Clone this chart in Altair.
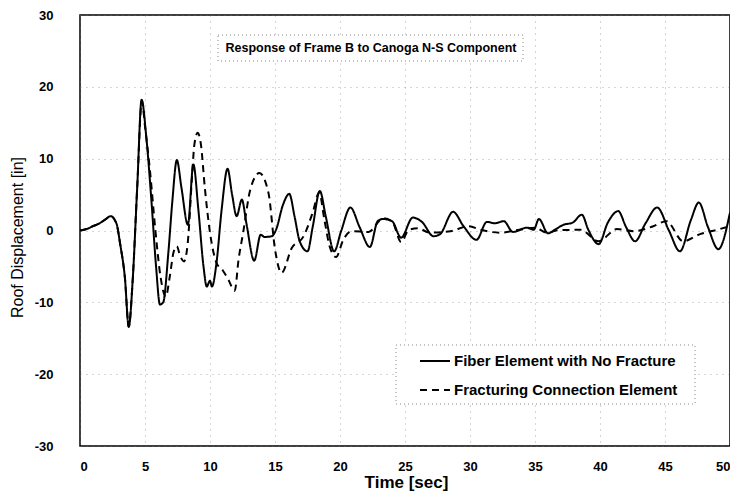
import altair as alt
import pandas as pd

# Fiber Element with No Fracture (solid)
solid_t = [0, 0.5, 1.0, 1.5, 2.0, 2.35, 2.8, 3.1, 3.45, 3.75, 4.05, 4.4, 4.74,
           5.1, 5.5, 5.85, 6.15, 6.4, 6.8, 7.1, 7.45, 7.8, 8.3, 8.72, 9.1, 9.5, 9.75,
           10.0, 10.15, 10.5, 10.9, 11.35, 11.7, 12.05, 12.45, 12.8, 13.4, 13.9, 14.2,
           14.75, 15.1, 15.6, 16.1, 16.5, 16.9, 17.5, 17.9, 18.45, 18.9, 19.55, 20.1,
           20.8, 21.5, 22.3, 22.9, 23.3, 24.0, 24.7, 25.6, 26.3, 27.2, 27.7, 28.7,
           29.5, 30.5, 31.3, 31.9, 32.6, 33.3, 34.4, 34.9, 35.3, 36.0, 36.6, 37.2,
           37.9, 38.6, 39.1, 39.9, 40.6, 41.4, 42.0, 42.7, 43.5, 44.4, 45.3, 46.15,
           47.0, 47.6, 48.3, 49.1, 50.0]
solid_y = [0, 0.2, 0.6, 1.0, 1.6, 2.0, 1.0, -2.0, -6.5, -13.4, -7.0, 6.0, 18.2,
           13.0, 4.0, -5.0, -10.3, -10.0, -3.0, 4.0, 9.8, 6.0, 0.8, 9.2, 3.0, -5.0, -7.8,
           -7.0, -7.8, -4.5, 3.0, 8.6, 5.0, 2.0, 4.3, 1.0, -4.2, -0.6, -0.9,
           -0.8, 0.2, 3.5, 5.1, 2.0, -1.5, -2.9, 0.5, 5.5, 2.0, -2.9, 0.0,
           3.2, 0.5, -2.3, 1.3, 1.6, 1.3, -1.0, 1.8, 1.2, -0.8, -0.5, 2.6,
           0.6, -1.3, 1.2, 1.0, 1.3, -0.2, 0.4, 0.1, 1.6, -0.4, 0.2, 0.8,
           1.1, 2.2, 0.1, -1.9, 1.1, 2.7, 0.5, -1.5, 1.0, 3.2, 0.0, -2.9,
           1.5, 3.9, 0.5, -2.6, 2.5]

# Fracturing Connection Element (dashed)
dash_t = [0, 0.5, 1.0, 1.5, 2.0, 2.35, 2.8, 3.1, 3.45, 3.75, 4.05, 4.4, 4.76,
          5.0, 5.4, 5.8, 6.2, 6.6, 6.9, 7.2, 7.45, 7.7, 8.0, 8.3, 8.6, 8.8, 9.05,
          9.3, 9.6, 10.0, 10.5, 11.0, 11.4, 11.9, 12.2, 12.55, 13.1, 13.8, 14.5,
          15.0, 15.5, 16.3, 17.2, 17.9, 18.4, 18.8, 19.2, 19.7, 20.25, 20.9, 22.2,
          23.3, 24.0, 24.7, 25.3, 26.0, 26.9, 28.5, 29.9, 30.8, 32.3, 33.8, 35.0,
          35.9, 36.9, 38.5, 39.9, 41.3, 42.6, 44.1, 45.1, 46.4, 47.7, 49.0, 50.0]
dash_y = [0, 0.2, 0.6, 1.0, 1.6, 2.0, 1.0, -2.0, -6.5, -13.4, -7.0, 6.0, 18.0,
          14.5, 8.0, 0.0, -6.5, -9.2, -6.5, -3.0, -2.2, -3.5, -4.3, -1.5, 7.0, 12.0, 13.6,
          12.0, 6.0, -0.3, -4.5, -5.6, -6.8, -8.4, -4.0, -0.3, 5.7, 8.0, 5.2,
          -2.6, -5.9, -2.4, -0.8, 2.5, 5.3, 1.5, -2.2, -3.7, -1.3, -0.1, -0.2,
          1.7, 1.3, -1.6, 0.1, 0.3, -0.3, -0.1, 0.6, 0.1, -0.3, 0.1, 0.4,
          -0.3, 0.05, 0.1, -1.5, 0.2, -0.1, 0.6, 1.3, -1.5, -0.5, 0.1, 0.6]

series_names = ["Fiber Element with No Fracture", "Fracturing Connection Element"]
x_ticks = [0, 5, 10, 15, 20, 25, 30, 35, 40, 45, 50]
y_ticks = [-30, -20, -10, 0, 10, 20, 30]
title_text = "Response of Frame B to Canoga N-S Component"

df = pd.concat([
    pd.DataFrame({"t": solid_t, "y": solid_y, "series": series_names[0]}),
    pd.DataFrame({"t": dash_t, "y": dash_y, "series": series_names[1]}),
])

FONT = "Liberation Sans"

lines = alt.Chart(df).mark_line(color="black", strokeWidth=2, interpolate="monotone", clip=True).encode(
    x=alt.X("t:Q", scale=alt.Scale(domain=[0, 50], nice=False),
            axis=alt.Axis(values=x_ticks, title="Time [sec]", labelExpr="'' + datum.value",
                          labelPadding=14, tickSize=0, labelFontSize=13, labelFontWeight="bold",
                          titleX=326, titleY=36, titleBaseline="middle",
                          titleFontSize=17, titleFontWeight="bold")),
    y=alt.Y("y:Q", scale=alt.Scale(domain=[-30, 30], nice=False),
            axis=alt.Axis(values=y_ticks, title="Roof Displacement [in]", labelExpr="'' + datum.value",
                          labelPadding=27, tickSize=0, labelFontSize=13, labelFontWeight="bold",
                          titleX=-63, titleY=222, titleAngle=-90, titleBaseline="middle",
                          titleFontSize=16, titleFontWeight="normal")),
    strokeDash=alt.StrokeDash("series:N", scale=alt.Scale(domain=series_names, range=[[1, 0], [7, 5]]),
                              legend=alt.Legend(orient="none", legendX=339, legendY=330, title=None,
                                                symbolType="stroke", symbolSize=900, symbolStrokeWidth=2,
                                                symbolStrokeColor="black", labelFontSize=15, labelFont=FONT,
                                                labelFontWeight="bold", labelOffset=3,
                                                rowPadding=5, padding=0, labelLimit=400)),
    detail="series:N",
)

box_df = pd.DataFrame({"k": ["title", "legend"]})
title_box = alt.Chart(box_df).transform_filter("datum.k == 'title'").mark_rect(
    fill="white", stroke="#888", strokeDash=[1, 3], strokeWidth=1).encode(
    x=alt.value(138), x2=alt.value(443), y=alt.value(20), y2=alt.value(46)
)
legend_box = alt.Chart(box_df).transform_filter("datum.k == 'legend'").mark_rect(
    fill="white", stroke="#888", strokeDash=[1, 3], strokeWidth=1).encode(
    x=alt.value(316), x2=alt.value(615), y=alt.value(330), y2=alt.value(389)
)
title_df = pd.DataFrame({"txt": [title_text]})
title_mark = alt.Chart(title_df).mark_text(font=FONT, fontSize=12.5, fontWeight="bold", color="black",
                                           align="center", baseline="middle").encode(
    x=alt.value(291), y=alt.value(33), text="txt:N"
)

chart = alt.layer(legend_box, lines, title_box, title_mark).properties(
    width=650, height=431,
    autosize=alt.AutoSizeParams(type="none"),
    padding={"left": 72, "top": 7, "right": 0, "bottom": 50},
).configure(background="white").configure_view(stroke="black", strokeWidth=1.5).configure_axis(
    labelFont=FONT, titleFont=FONT, labelColor="black", titleColor="black", domain=False,
    grid=True, gridColor="#777", gridDash=[1, 5], gridOpacity=0.6, gridWidth=1,
)

chart.save("out.html", embed_options={"renderer": "svg", "actions": False})
